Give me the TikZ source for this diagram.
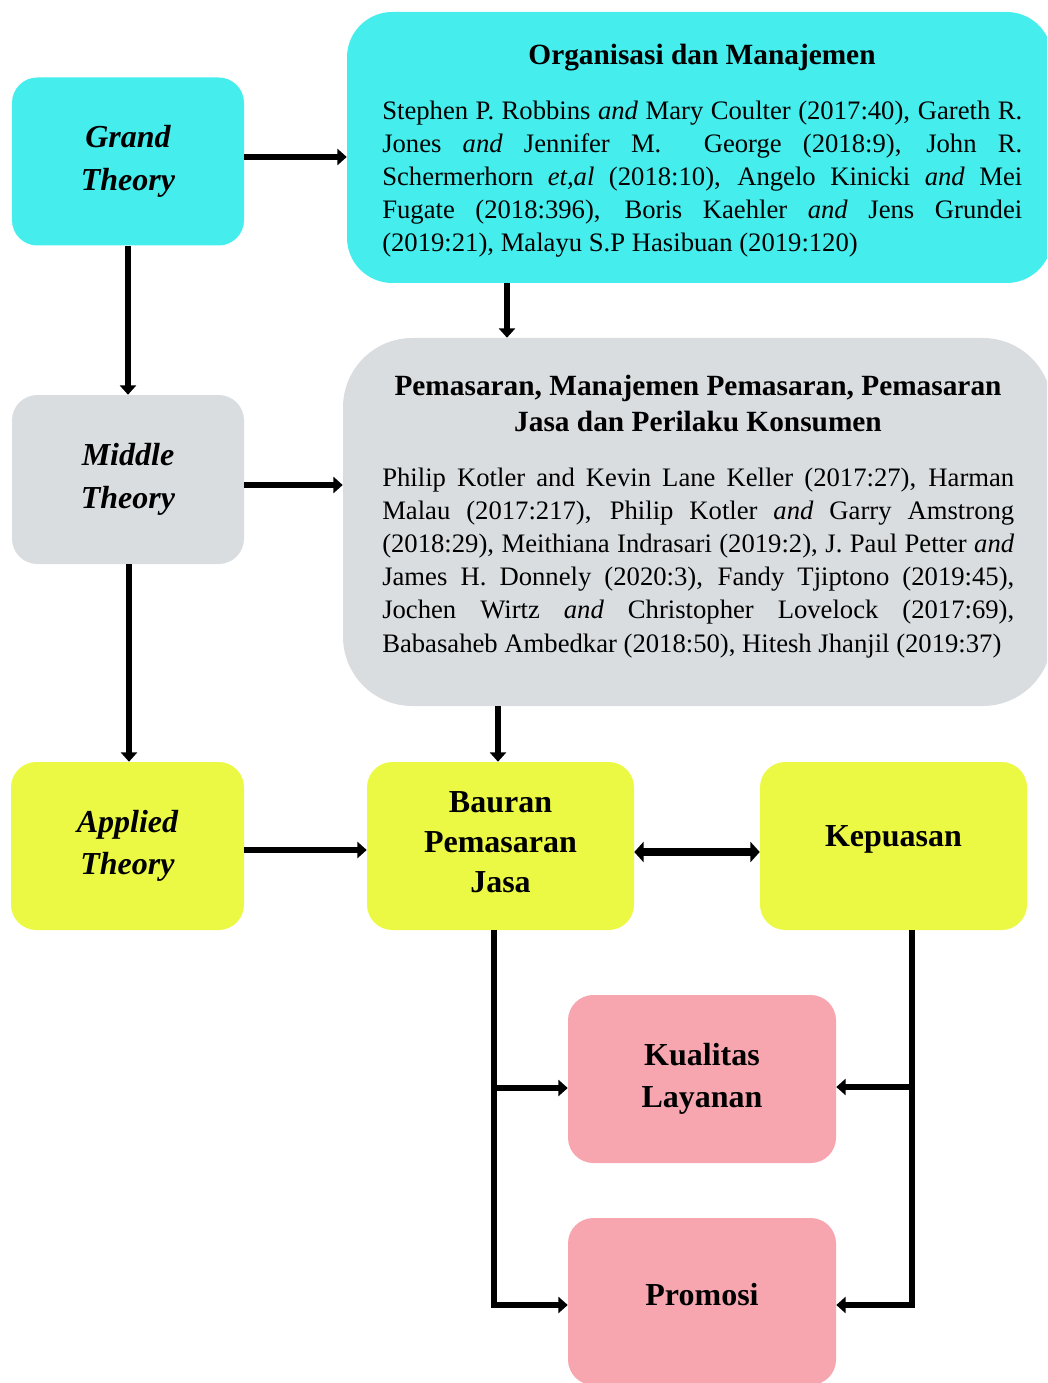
\documentclass[tikz,border=0pt]{standalone}
\usepackage{fontspec}
\setmainfont{Liberation Serif}
\usetikzlibrary{arrows.meta}
\definecolor{cyanbox}{RGB}{69,237,237}
\definecolor{graybox}{RGB}{217,221,224}
\definecolor{yellowbox}{RGB}{236,249,68}
\definecolor{pinkbox}{RGB}{247,166,176}
\newcommand{\jl}[2]{\makebox[#1][s]{#2}}
\newcommand{\liftby}[2]{\raisebox{#1}[\height][\depth]{#2}}
\begin{document}
\begin{tikzpicture}[x=0.75pt,y=-0.75pt,
 box/.style={rounded corners=19pt, minimum width=174pt, minimum height=126pt, inner sep=0pt, align=center, font=\fontsize{24}{30}\selectfont\bfseries},
 theo/.style={box, font=\fontsize{24}{32}\selectfont\bfseries\itshape},
 bigbox/.style={inner sep=0pt},
 arr/.style={line width=4.5pt, -{Triangle[length=7pt,width=12pt]}},
 dbl/.style={line width=6.5pt, {Triangle[length=7pt,width=15pt]}-{Triangle[length=7pt,width=15pt]}},
 body/.style={anchor=base west, inner sep=0pt, font=\fontsize{20}{24.75}\selectfont},
 ttl/.style={anchor=base, inner sep=0pt, font=\fontsize{22}{26}\selectfont\bfseries}]
\useasboundingbox (0,0) rectangle (1047,1383);
\clip (0,0) rectangle (1047,1383);

% big boxes
\node[bigbox, fill=cyanbox, rounded corners=34pt, minimum width=528.75pt, minimum height=203.25pt] (org) at (699.5,147.5) {};
\node[bigbox, fill=graybox, rounded corners=52pt, minimum width=531.75pt, minimum height=276pt] (pemas) at (697.5,522) {};

% theory boxes
\node[theo, fill=cyanbox] (grand) at (128,161.5) {Grand\\Theory};
\node[theo, fill=graybox, minimum height=126.75pt] (middle) at (128,479.5) {Middle\\Theory};
\node[theo, fill=yellowbox, minimum width=174.75pt] (applied) at (127.5,846) {Applied\\Theory};

% concept boxes
\node[box, fill=yellowbox, minimum width=200.25pt, text depth=6pt] (bauran) at (500.5,846) {Bauran\\Pemasaran\\Jasa};
\node[box, fill=yellowbox, minimum width=200.25pt] (kepuasan) at (893.5,846) {\liftby{5pt}{Kepuasan}};
\node[box, fill=pinkbox, minimum width=201pt, font=\fontsize{24}{32}\selectfont\bfseries] (kualitas) at (702,1079) {Kualitas\\Layanan};
\node[box, fill=pinkbox, minimum width=201pt, minimum height=125.25pt] (promosi) at (702,1301.5) {\liftby{5pt}{Promosi}};

% texts in big boxes
\node[ttl] (orgt) at (702,65) {Organisasi dan Manajemen};
\node[body] (o1) at (382,120) {\jl{480pt}{Stephen P. Robbins \textit{and} Mary Coulter (2017:40), Gareth R.}};
\node[body] (o2) at (382,153) {\jl{480pt}{Jones \textit{and} Jennifer M.\ \ George (2018:9), John R.}};
\node[body] (o3) at (382,186) {\jl{480pt}{Schermerhorn \textit{et,al} (2018:10), Angelo Kinicki \textit{and} Mei}};
\node[body] (o4) at (382,219) {\jl{480pt}{Fugate (2018:396), Boris Kaehler \textit{and} Jens Grundei}};
\node[body] (o5) at (382,252) {(2019:21), Malayu S.P Hasibuan (2019:120)};

\node[ttl] (pt1) at (698,396) {Pemasaran, Manajemen Pemasaran, Pemasaran};
\node[ttl] (pt2) at (698,431) {Jasa dan Perilaku Konsumen};
\node[body] (p1) at (382,486) {\jl{474pt}{Philip Kotler and Kevin Lane Keller (2017:27), Harman}};
\node[body] (p2) at (382,519.2) {\jl{474pt}{Malau (2017:217), Philip Kotler \textit{and} Garry Amstrong}};
\node[body] (p3) at (382,552.4) {\jl{474pt}{(2018:29), Meithiana Indrasari (2019:2), J. Paul Petter \textit{and}}};
\node[body] (p4) at (382,585.6) {\jl{474pt}{James H. Donnely (2020:3), Fandy Tjiptono (2019:45),}};
\node[body] (p5) at (382,618.8) {\jl{474pt}{Jochen Wirtz \textit{and} Christopher Lovelock (2017:69),}};
\node[body] (p6) at (382,652) {Babasaheb Ambedkar (2018:50), Hitesh Jhanjil (2019:37)};

% connectors
\draw[arr] (grand.east |- 0,157) -- (org.west |- 0,157);
\draw[arr] (grand.south) -- (middle.north);
\draw[arr] (org.south -| 507,0) -- (pemas.north -| 507,0);
\draw[arr] (middle.east |- 0,485) -- (pemas.west |- 0,485);
\draw[arr] (middle.south -| 129,0) -- (applied.north -| 129,0);
\draw[arr] (pemas.south -| 498,0) -- (bauran.north -| 498,0);
\draw[arr] (applied.east |- 0,850) -- (bauran.west |- 0,850);
\draw[dbl] (bauran.east |- 0,852) -- (kepuasan.west |- 0,852);

\coordinate (bl) at (494,1088);
\coordinate (kr) at (912,1087);
\draw[arr] (bauran.south -| 494,0) |- (promosi.west |- 0,1305);
\draw[arr] (bl) -- (kualitas.west |- bl);
\draw[arr] (kepuasan.south -| 912,0) |- (promosi.east |- 0,1305);
\draw[arr] (kr) -- (kualitas.east |- kr);
\end{tikzpicture}
\end{document}
